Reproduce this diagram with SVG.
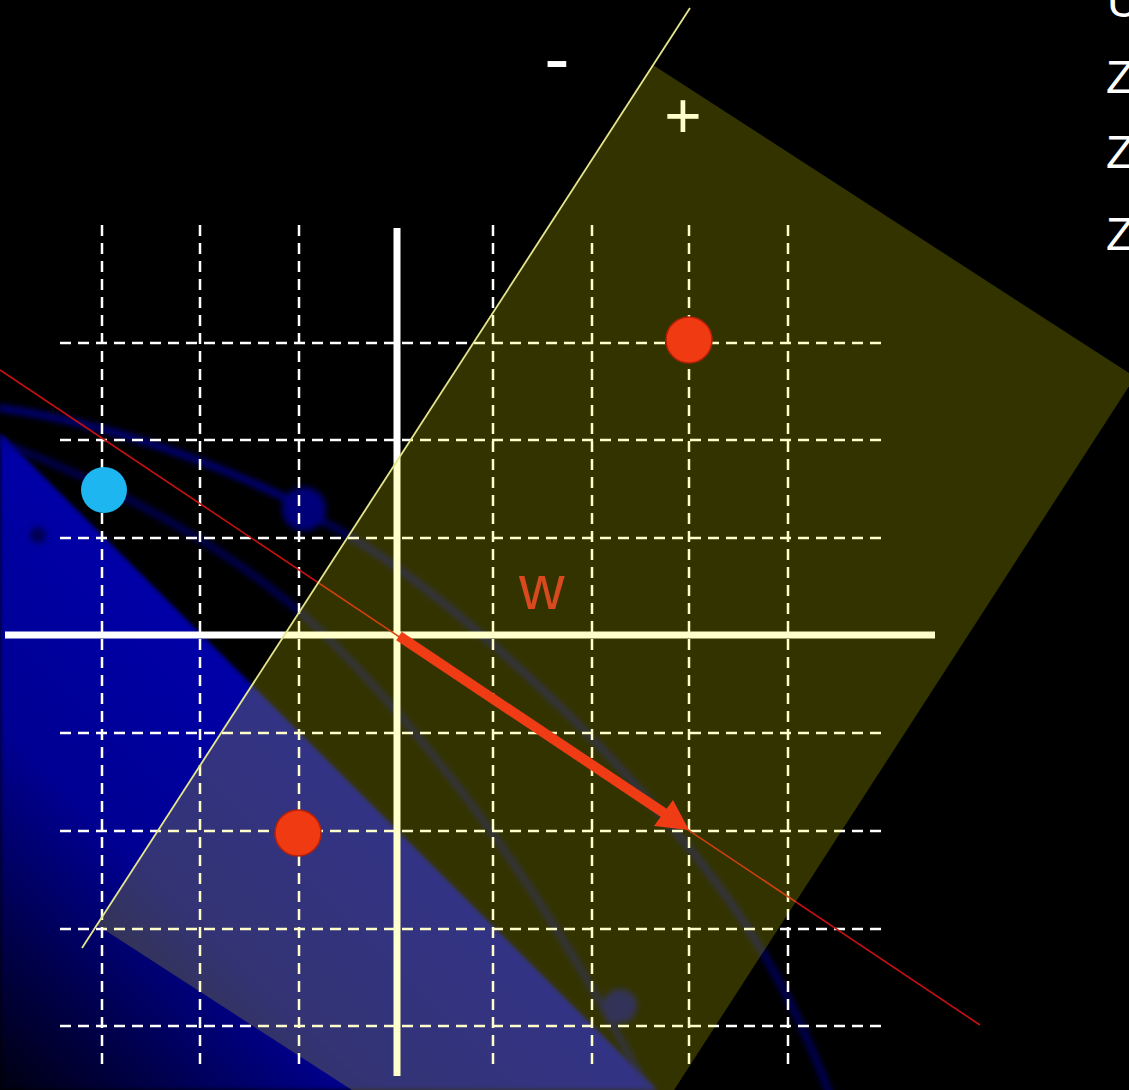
<svg xmlns="http://www.w3.org/2000/svg" width="1129" height="1090" viewBox="0 0 1129 1090">
<defs>
<linearGradient id="blueGrad" gradientUnits="userSpaceOnUse" x1="0" y1="1090" x2="330" y2="760">
<stop offset="0" stop-color="#000010"/>
<stop offset="0.55" stop-color="#000092"/>
<stop offset="1" stop-color="#0000a8"/>
</linearGradient>
<filter id="blur3" x="-30%" y="-30%" width="160%" height="160%"><feGaussianBlur stdDeviation="3"/></filter>
<filter id="blur1" x="-10%" y="-10%" width="120%" height="120%"><feGaussianBlur stdDeviation="2"/></filter>
</defs>
<style>
.grid{stroke:#ffffff;stroke-width:2.5;stroke-dasharray:11 7;fill:none}
.axis{stroke:#ffffff;stroke-width:7;fill:none}
.curve{fill:none;stroke:#00008c;stroke-width:6;stroke-linecap:round}
.txt{font-family:"Liberation Sans",Arial,sans-serif}
.dot-red{fill:#f03a12;stroke:#b82008;stroke-width:1.5}
</style>
<rect id="background" x="0" y="0" width="1129" height="1090" fill="#000000"/>
<g id="blue-region">
<polygon points="0,433 657,1090 0,1090" fill="url(#blueGrad)" filter="url(#blur1)"/>
</g>
<g id="decor" filter="url(#blur3)">
<path class="curve" d="M0,408 C120,425 230,470 300,505"/>
<path class="curve" d="M320,520 C420,570 560,700 640,790 S780,960 830,1095" stroke-opacity="0.75"/>
<path class="curve" d="M0,442 C150,500 260,570 330,640 C430,740 540,880 650,1095" stroke="#000060" stroke-opacity="0.7"/>
<circle cx="304" cy="509" r="22" fill="#00007a"/>
<circle cx="620" cy="1006" r="17" fill="#000070"/>
<circle cx="38" cy="535" r="8" fill="#000050"/>
</g>
<g id="grid">
<line class="grid" x1="102" y1="225" x2="102" y2="1070"/>
<line class="grid" x1="200" y1="225" x2="200" y2="1070"/>
<line class="grid" x1="299" y1="225" x2="299" y2="1070"/>
<line class="grid" x1="493" y1="225" x2="493" y2="1070"/>
<line class="grid" x1="592" y1="225" x2="592" y2="1070"/>
<line class="grid" x1="689" y1="225" x2="689" y2="1070"/>
<line class="grid" x1="788" y1="225" x2="788" y2="1070"/>
<line class="grid" x1="60" y1="343" x2="885" y2="343"/>
<line class="grid" x1="60" y1="440" x2="885" y2="440"/>
<line class="grid" x1="60" y1="538" x2="885" y2="538"/>
<line class="grid" x1="60" y1="733" x2="885" y2="733"/>
<line class="grid" x1="60" y1="831" x2="885" y2="831"/>
<line class="grid" x1="60" y1="929" x2="885" y2="929"/>
<line class="grid" x1="60" y1="1026" x2="885" y2="1026"/>
</g>
<g id="axes">
<line class="axis" x1="5" y1="635" x2="935" y2="635"/>
<line class="axis" x1="397" y1="228" x2="397" y2="1076"/>
</g>
<g id="normal-line">
<line x1="0" y1="370" x2="980" y2="1025" stroke="#c81010" stroke-width="1.6"/>
</g>
<g id="plus-label">
<text class="txt" x="683" y="138" font-size="64" fill="#ffffff" text-anchor="middle">+</text>
</g>
<g id="positive-halfspace">
<polygon points="653,65 1135,377 579,1237 97,925" fill="#ffff00" fill-opacity="0.2"/>
</g>
<g id="separator">
<line x1="690" y1="8" x2="82" y2="948" stroke="#e6e68c" stroke-width="1.8"/>
</g>
<g id="w-vector">
<line x1="399" y1="636" x2="667" y2="815" stroke="#f03c14" stroke-width="10"/>
<polygon points="689,830 654,826 673,800" fill="#f03c14"/>
</g>
<g id="w-label">
<text class="txt" x="519" y="609" font-size="63" fill="#d84a1e">w</text>
</g>
<g id="minus-label">
<text class="txt" x="557" y="84" font-size="76" fill="#ffffff" text-anchor="middle">-</text>
</g>
<g id="point-cyan"><circle cx="104" cy="490" r="23" fill="#1eb6f0"/></g>
<g id="point-red-top"><circle class="dot-red" cx="689" cy="340" r="23"/></g>
<g id="point-red-bottom"><circle class="dot-red" cx="298" cy="833" r="23"/></g>
<g id="side-text" class="txt" font-size="46" fill="#ffffff">
<text x="1107" y="17">U</text>
<text x="1106" y="93">Z</text>
<text x="1106" y="168">Z</text>
<text x="1106" y="250">Z</text>
</g>
</svg>
